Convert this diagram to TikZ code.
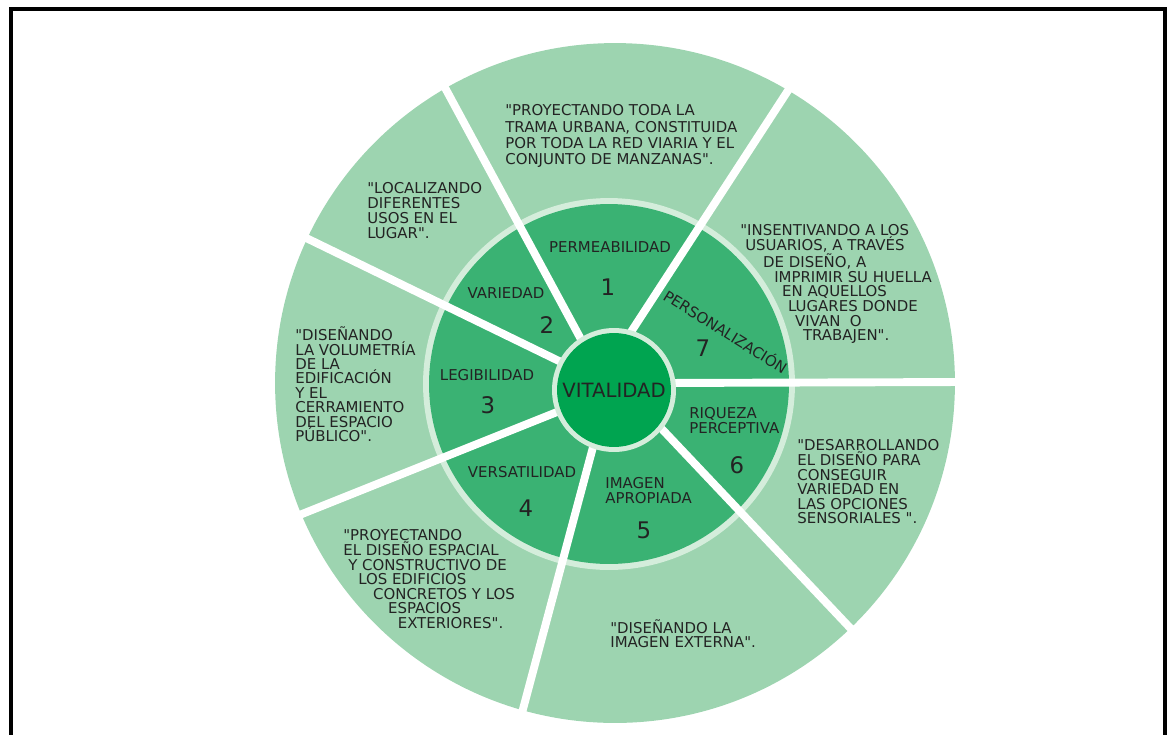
\documentclass[tikz,border=0pt]{standalone}
\usepackage{fontspec}
\setmainfont{DejaVu Sans}[Ligatures=TeXOff]
\definecolor{outerGreen}{RGB}{157,212,176}
\definecolor{ringGreen}{RGB}{212,237,219}
\definecolor{innerGreen}{RGB}{58,178,115}
\definecolor{coreGreen}{RGB}{0,164,80}
\definecolor{inkGray}{RGB}{35,35,35}
\begin{document}
\begin{tikzpicture}[x=0.02cm,y=-0.02cm,
  quote/.style={align=left, anchor=north west, inner sep=0pt, text=inkGray},
  label/.style={inner sep=0pt, text=inkGray, font=\fontsize{8.5}{8.3}\selectfont},
  num/.style={inner sep=0pt, text=inkGray, font=\fontsize{13}{13}\selectfont}]
    \newcommand{\qFont}[1]{\fontsize{8.5}{#1}\selectfont}
\useasboundingbox (0,0) rectangle (1175,734);
\draw[line width=2.3pt] (11,750) -- (11,9) -- (1165,9) -- (1165,750);
\fill[outerGreen] (615,383) circle[radius=6.8cm];
\fill[ringGreen] (609,384) circle[radius=3.72cm];
\fill[innerGreen] (609,384) circle[radius=3.6cm];
\foreach \xa/\ya/\xb/\yb in {583/343/443/84, 629/335/789/89, 660/383/962/382,
    660/427/854/632, 593/447/519/724, 557/412/292/518, 561/362/298/234}
  \draw[white, line width=4.5pt] (\xa,\ya) -- (\xb,\yb);
\fill[ringGreen] (614,390) circle[radius=1.24cm];
\fill[coreGreen] (614,390) circle[radius=1.14cm];
\node[inner sep=0pt, text=inkGray, font=\fontsize{11.2}{11}\selectfont] (vital) at (614,390) {VITALIDAD};
% inner ring
\node[label] (perm) at (610,247) {PERMEABILIDAD};
\node[num] (perm-n) at (608,287) {1};
\node[label] (vari) at (506,293) {VARIEDAD};
\node[num] (vari-n) at (547,325) {2};
\node[label] (legi) at (487,375) {LEGIBILIDAD};
\node[num] (legi-n) at (488,405) {3};
\node[label] (vers) at (522,472) {VERSATILIDAD};
\node[num] (vers-n) at (526,508) {4};
\node[label, quote, font=\fontsize{8.5}{8}\selectfont] (imag) at (605,477.5) {IMAGEN\\APROPIADA};
\node[num] (imag-n) at (644,530) {5};
\node[label, quote, font=\fontsize{8.5}{8}\selectfont] (rique) at (689,407.5) {RIQUEZA\\PERCEPTIVA};
\node[num] (rique-n) at (737,465) {6};
\node[label, rotate=-32] (perso) at (726,331) {PERSONALIZACIÓN};
\node[num] (perso-n) at (703,348) {7};
% outer ring
\node[quote, font=\qFont{9.3}] (perm-q) at (505,104.5)
  {"PROYECTANDO TODA LA\\TRAMA URBANA, CONSTITUIDA\\POR TODA LA RED VIARIA Y EL\\CONJUNTO DE MANZANAS".};
\node[quote, font=\qFont{8.5}] (vari-q) at (367,182.5)
  {"LOCALIZANDO\\DIFERENTES\\USOS EN EL\\LUGAR".};
\node[quote, font=\qFont{8.2}] (legi-q) at (295,326.5)
  {"DISEÑANDO\\LA VOLUMETRÍA\\DE LA\\EDIFICACIÓN\\Y EL\\CERRAMIENTO\\DEL ESPACIO\\PÚBLICO".};
\node[quote, font=\qFont{8.3}] (vers-q) at (343,529.5)
  {"PROYECTANDO\\EL DISEÑO ESPACIAL\\\hspace*{2.8pt}Y CONSTRUCTIVO DE\\\hspace*{8.5pt}LOS EDIFICIOS\\
   \hspace*{17pt}CONCRETOS Y LOS\\\hspace*{25.5pt}ESPACIOS\\\hspace*{31pt}EXTERIORES".};
\node[quote, font=\qFont{8}] (imag-q) at (610,619.5)
  {"DISEÑANDO LA\\IMAGEN EXTERNA".};
\node[quote, font=\qFont{8.3}] (rique-q) at (797,439.5)
  {"DESARROLLANDO\\EL DISEÑO PARA\\CONSEGUIR\\VARIEDAD EN\\LAS OPCIONES\\SENSORIALES ".};
\node[quote, font=\qFont{8.3}] (perso-q) at (740,224.5)
  {"INSENTIVANDO A LOS\\\hspace*{2.8pt}USUARIOS, A TRAVÉS\\\hspace*{13pt}DE DISEÑO, A\\
   \hspace*{19.3pt}IMPRIMIR SU HUELLA\\\hspace*{23.8pt}EN AQUELLOS\\\hspace*{27.2pt}LUGARES DONDE\\
   \hspace*{31.2pt}VIVAN\ \ O\\\hspace*{35.7pt}TRABAJEN".};
\end{tikzpicture}
\end{document}
